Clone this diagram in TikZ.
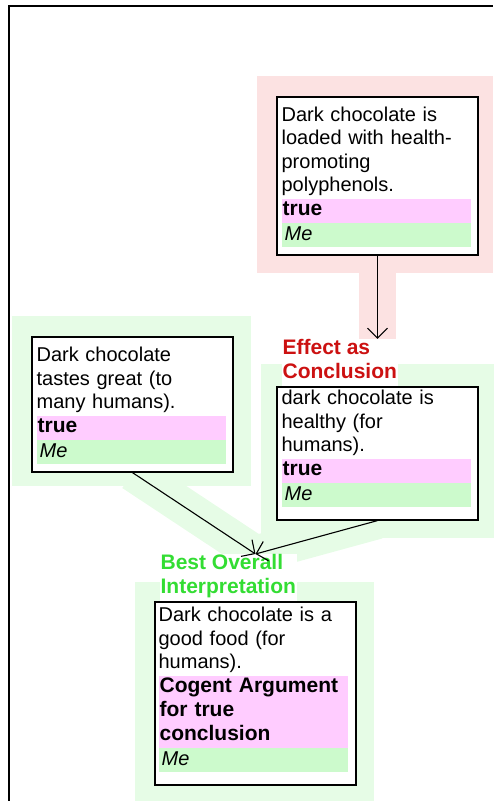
\documentclass[tikz,border=0pt]{standalone}
\usepackage{fontspec}
\setmainfont{Liberation Sans}
\usetikzlibrary{arrows.meta,positioning,calc,backgrounds}
\definecolor{grppink}{RGB}{252,226,226}
\definecolor{grpgreen}{RGB}{230,252,230}
\definecolor{truthpink}{RGB}{255,204,255}
\definecolor{ownergreen}{RGB}{204,250,204}
\definecolor{effectred}{RGB}{204,17,17}
\definecolor{bestgreen}{RGB}{51,221,51}
\tikzset{
  claimbox/.style={draw=black,fill=white,line width=1.2pt,minimum width=201pt,inner sep=0pt},
  claimtext/.style={text width=189pt,align=left,inner sep=0pt,
    font=\fontsize{20}{23.5}\selectfont,
    execute at begin node=\strut,execute at end node=\strut},
  truthband/.style={fill=truthpink,text width=187pt,align=left,inner xsep=1pt,inner ysep=0pt,
    font=\bfseries\fontsize{21}{24}\selectfont,
    execute at begin node=\strut,execute at end node=\strut},
  ownerband/.style={fill=ownergreen,text width=183pt,align=left,inner xsep=3pt,inner ysep=0pt,
    font=\itshape\fontsize{20}{24}\selectfont,
    execute at begin node=\strut,execute at end node=\strut},
  schemelabel/.style={fill=white,align=left,inner xsep=1pt,inner ysep=0pt,
    font=\bfseries\fontsize{21}{24}\selectfont,
    execute at begin node=\strut,execute at end node=\strut},
  support/.style={line width=1.1pt,-{Straight Barb[length=10pt,width=20pt]}},
  frameline/.style={line width=1.5pt}
}
\begin{document}
\begin{tikzpicture}[x=1pt,y=-1pt]
  \useasboundingbox (0,0) rectangle (493,801);
  \draw[frameline] (9,801) -- (9,6) -- (493,6);

  % premise at the top
  \node[claimbox,minimum height=158pt] (c1) at (377.5,176) {};
  \node[claimtext,below right=8pt and 5pt of c1.north west] (t1)
    {Dark chocolate is\\loaded with health-\\promoting\\polyphenols.};
  \node[truthband,below=0pt of t1] (v1) {true};
  \node[ownerband,below=0pt of v1] (o1) {Me};

  % effect as conclusion
  \node[claimbox,minimum height=133pt] (c2) at (377.5,453.5) {};
  \node[claimtext,below right=1.5pt and 5pt of c2.north west] (t2)
    {dark chocolate is\\healthy (for\\humans).};
  \node[truthband,below=0pt of t2] (v2) {true};
  \node[ownerband,below=0pt of v2] (o2) {Me};
  \node[schemelabel,text=effectred,above right=0.6pt and 5pt of c2.north west] (lab2)
    {Effect as\\Conclusion};

  % second premise
  \node[claimbox,minimum height=135pt] (c3) at (132.5,404.5) {};
  \node[claimtext,below right=8.5pt and 5pt of c3.north west] (t3)
    {Dark chocolate\\tastes great (to\\many humans).};
  \node[truthband,below=0pt of t3] (v3) {true};
  \node[ownerband,below=0pt of v3] (o3) {Me};

  % overall interpretation
  \node[claimbox,minimum height=183pt] (c4) at (255.5,693.5) {};
  \node[claimtext,below right=3.5pt and 4pt of c4.north west] (t4)
    {Dark chocolate is a\\good food (for\\humans).};
  \node[truthband,below=0pt of t4] (v4) {Cogent Argument\\for true\\conclusion};
  \node[ownerband,below=0pt of v4] (o4) {Me};
  \node[schemelabel,text=bestgreen,above right=0.6pt and 5pt of c4.north west] (lab4)
    {Best Overall\\Interpretation};

  \coordinate (join) at (c4.north |- lab4.north);
  \draw[support] (c1.south) -- (c1.south |- lab2.north);
  \draw[support] (c3.south) -- (join);
  \draw[support] (c2.south) -- (join);

  \begin{scope}[on background layer]
    \fill[grppink] ($(c1.north west)+(-19,-20)$) rectangle ($(c1.south east)+(14,17)$);
    \fill[grppink] ($(c1.south)+(-19,0)$) rectangle ($(c1.south |- lab2.north)+(18,3)$);
    \fill[grpgreen] ($(c2.north west)+(-15,-22)$) rectangle ($(c2.south east)+(15,17)$);
    \fill[grpgreen] ($(c2.south)!18.5pt!90:(join)$) -- ($(c2.south)!18.5pt!-90:(join)$)
      -- ($(join)!18.5pt!90:(c2.south)$) -- ($(join)!18.5pt!-90:(c2.south)$) -- cycle;
    \fill[grpgreen] ($(c3.north west)+(-19,-20)$) rectangle ($(c3.south east)+(17,13)$);
    \fill[grpgreen] ($(c3.south)!18.5pt!90:(join)$) -- ($(c3.south)!18.5pt!-90:(join)$)
      -- ($(join)!18.5pt!90:(c3.south)$) -- ($(join)!18.5pt!-90:(c3.south)$) -- cycle;
    \fill[grpgreen] ($(c4.north west)+(-19,-19)$) rectangle ($(c4.south east)+(17,20)$);
  \end{scope}
\end{tikzpicture}
\end{document}
